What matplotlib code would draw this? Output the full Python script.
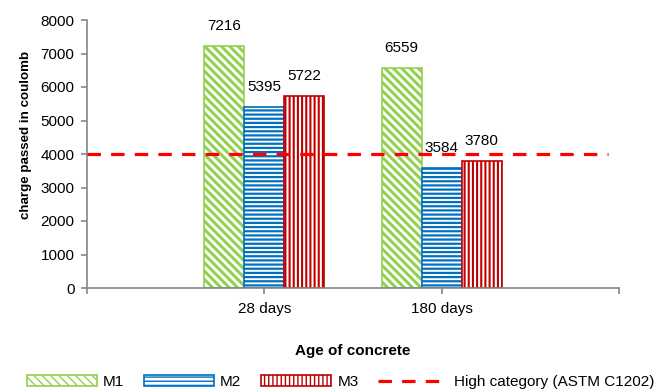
import matplotlib
matplotlib.use("Agg")
import matplotlib.pyplot as plt
from matplotlib.patches import Patch
from matplotlib.lines import Line2D
import numpy as np

# Data
ages = ["28 days", "180 days"]
series_names = ["M1", "M2", "M3"]
m1 = [7216, 6559]
m2 = [5395, 3584]
m3 = [5722, 3780]
high_limit = 4000
limit_label = "High category (ASTM C1202)"

plt.rcParams["font.family"] = ["Liberation Sans", "DejaVu Sans"]

colors = ["#92D050", "#0070C0", "#C00000"]
hatches = ["\\\\\\\\", "----", "||||"]
hatch_lw = [2.2, 1.6, 1.5]

fig = plt.figure(figsize=(6.67, 3.90), dpi=100)
ax = fig.add_axes([87 / 667, 1 - 288 / 390, (619 - 87) / 667, (288 - 20) / 390])

x = np.arange(1, len(ages) + 1)
width = 0.226
offsets = [-width, 0, width]
legend_handles = []
for vals, name, col, h, hl, off in zip([m1, m2, m3], series_names, colors,
                                       hatches, hatch_lw, offsets):
    with plt.rc_context({"hatch.linewidth": hl, "hatch.color": col}):
        bars = ax.bar(x + off, vals, width, facecolor="white", edgecolor=col,
                      linewidth=1.2, hatch=h, label=name, zorder=2)
        for b in bars:
            if hasattr(b, "set_hatch_linewidth"):
                b.set_hatch_linewidth(hl)
        ax.bar_label(bars, labels=[str(v) for v in vals], padding=9.5, fontsize=11)
        hp = Patch(facecolor="white", edgecolor=col, linewidth=1.2, hatch=h, label=name)
        if hasattr(hp, "set_hatch_linewidth"):
            hp.set_hatch_linewidth(hl)
        legend_handles.append(hp)

limit_style = dict(color="#FF0000", linewidth=2.3, linestyle=(0, (4.2, 3.2)))
ax.plot([0, 2.94], [high_limit, high_limit], zorder=3, **limit_style)
legend_handles.append(Line2D([], [], label=limit_label, **limit_style))

ax.set_xlim(0, 3)
ax.set_ylim(0, 8000)
ax.set_yticks(np.arange(0, 8001, 1000))
ax.set_xticks([0, 1, 2, 3])
ax.set_xticklabels([""] + ages + [""])

for s in ["top", "right"]:
    ax.spines[s].set_visible(False)
for s in ["left", "bottom"]:
    ax.spines[s].set_color("#868686")
    ax.spines[s].set_linewidth(1.2)
ax.tick_params(axis="both", colors="#868686", labelcolor="black", labelsize=11,
               length=4, width=1.2)
ax.tick_params(axis="y", pad=5)
ax.tick_params(axis="x", pad=6)

ax.set_ylabel("charge passed in coulomb", fontsize=9.6, fontweight="bold")
ax.yaxis.set_label_coords(-0.103, 0.57)
ax.set_xlabel("Age of concrete", fontsize=11, fontweight="bold", labelpad=20)

fs = 11
fig.legend(handles=legend_handles, loc="center left",
           bbox_to_anchor=(27 / 667, 1 - 382 / 390), ncol=4, frameon=False,
           fontsize=fs, handlelength=70 / 15.3, handleheight=0.7,
           handletextpad=0.4, columnspacing=1.3, borderpad=0, borderaxespad=0)

fig.savefig("out.png", dpi=100)
